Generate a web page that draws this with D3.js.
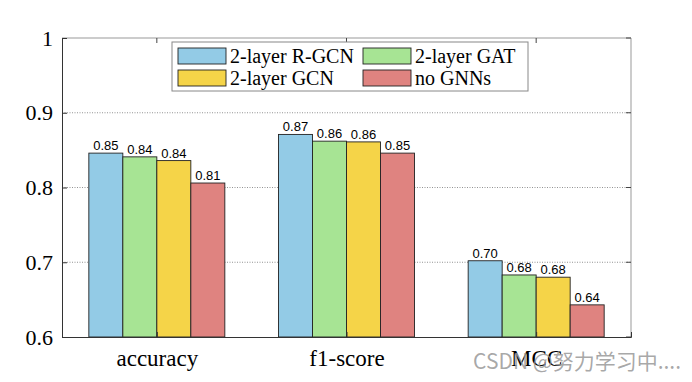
<!DOCTYPE html>
<html>
<head>
<meta charset="utf-8">
<script src="https://cdn.jsdelivr.net/npm/d3@7"></script>
<style>
  body { margin: 0; background: #fff; }
</style>
</head>
<body>
<script>
// chart data
const metrics = ["accuracy", "f1-score", "MCC"];
const models = ["2-layer R-GCN", "2-layer GAT", "2-layer GCN", "no GNNs"];
const colors = ["#93cbe6", "#a7e494", "#f5d448", "#df8380"];
const values = [
  [0.846, 0.841, 0.836, 0.806],  // accuracy
  [0.871, 0.862, 0.861, 0.846],  // f1-score
  [0.702, 0.683, 0.680, 0.643]   // MCC
];
const labels = [
  ["0.85", "0.84", "0.84", "0.81"],
  ["0.87", "0.86", "0.86", "0.85"],
  ["0.70", "0.68", "0.68", "0.64"]
];
const yTicks = [0.6, 0.7, 0.8, 0.9, 1];

const width = 692, height = 382;
const margin = { top: 38, right: 61, bottom: 45, left: 62 };
const plotW = width - margin.left - margin.right;
const plotH = height - margin.top - margin.bottom;

const svg = d3.select("body").append("svg")
  .attr("width", width)
  .attr("height", height);

const g = svg.append("g").attr("transform", `translate(${margin.left},${margin.top})`);

const x = d3.scaleLinear().domain([0.5, 3.5]).range([0, plotW]);
const y = d3.scaleLinear().domain([0.6, 1]).range([plotH, 0]);
const barW = 34;
const serif = "'Liberation Serif', 'Times New Roman', serif";

// dotted grid
g.selectAll(".grid")
  .data(yTicks.filter(d => d > 0.6 && d < 1))
  .join("line")
  .attr("x1", 0).attr("x2", plotW)
  .attr("y1", d => y(d)).attr("y2", d => y(d))
  .attr("stroke", "#777")
  .attr("stroke-width", 0.8)
  .attr("stroke-dasharray", "1,1.5");

// bars + value labels
metrics.forEach((m, i) => {
  const cx = x(i + 1);
  models.forEach((mod, j) => {
    const bx = cx - 2 * barW + j * barW;
    g.append("rect")
      .attr("x", bx)
      .attr("y", y(values[i][j]))
      .attr("width", barW)
      .attr("height", y(0.6) - y(values[i][j]))
      .attr("fill", colors[j])
      .attr("stroke", "#222")
      .attr("stroke-width", 0.9);
    g.append("text")
      .attr("x", bx + barW / 2)
      .attr("y", y(values[i][j]) - 3)
      .attr("text-anchor", "middle")
      .style("font-family", "'Liberation Sans', Arial, sans-serif")
      .style("font-size", "13px")
      .text(labels[i][j]);
  });
});

// frame: top and right in gray
g.append("line").attr("x1", 0).attr("x2", plotW).attr("y1", 0).attr("y2", 0)
  .attr("stroke", "#999").attr("stroke-width", 1);
g.append("line").attr("x1", plotW).attr("x2", plotW).attr("y1", 0).attr("y2", plotH)
  .attr("stroke", "#999").attr("stroke-width", 1);

// ticks on top and right
g.selectAll(".ttick").data(metrics).join("line")
  .attr("x1", (d, i) => x(i + 1)).attr("x2", (d, i) => x(i + 1))
  .attr("y1", 0).attr("y2", 5)
  .attr("stroke", "#444");
g.selectAll(".rtick").data(yTicks).join("line")
  .attr("x1", plotW).attr("x2", plotW - 5)
  .attr("y1", d => y(d)).attr("y2", d => y(d))
  .attr("stroke", "#444");

// left axis
const yAxis = d3.axisLeft(y).tickValues(yTicks).tickSize(-5).tickPadding(9)
  .tickFormat(d => d === 1 ? "1" : d3.format(".1f")(d));
const ya = g.append("g").call(yAxis);
ya.select(".domain").attr("stroke", "#333");
ya.selectAll(".tick line").attr("stroke", "#333");
ya.selectAll("text")
  .style("font-family", serif)
  .style("font-size", "22px")
  .attr("fill", "#000");

// bottom axis
const xAxis = d3.axisBottom(x).tickValues([1, 2, 3]).tickSize(-5).tickPadding(13)
  .tickFormat((d, i) => metrics[i]);
const xa = g.append("g").attr("transform", `translate(0,${plotH})`).call(xAxis);
xa.select(".domain").attr("stroke", "#333");
xa.selectAll(".tick line").attr("stroke", "#333");
xa.selectAll("text")
  .style("font-family", serif)
  .style("font-size", "23px")
  .attr("fill", "#000");

// legend
const leg = svg.append("g").attr("transform", "translate(172,42)");
leg.append("rect")
  .attr("width", 356).attr("height", 49)
  .attr("fill", "#fff").attr("stroke", "#888").attr("stroke-width", 1);
models.forEach((mod, j) => {
  const col = j % 2, row = Math.floor(j / 2);
  const lx = 6 + col * 185, ly = 6 + row * 22;
  leg.append("rect")
    .attr("x", lx).attr("y", ly)
    .attr("width", 48).attr("height", 16)
    .attr("fill", colors[j]).attr("stroke", "#222").attr("stroke-width", 0.9);
  leg.append("text")
    .attr("x", lx + 52).attr("y", ly + 15)
    .style("font-family", serif)
    .style("font-size", "20px")
    .text(mod);
});

// watermark
svg.append("text")
  .attr("x", 681).attr("y", 369)
  .attr("text-anchor", "end")
  .style("font-family", "'Noto Sans CJK SC', sans-serif")
  .style("font-size", "21px")
  .attr("fill", "#999")
  .attr("fill-opacity", 0.85)
  .text("CSDN @努力学习中....");
</script>
</body>
</html>
